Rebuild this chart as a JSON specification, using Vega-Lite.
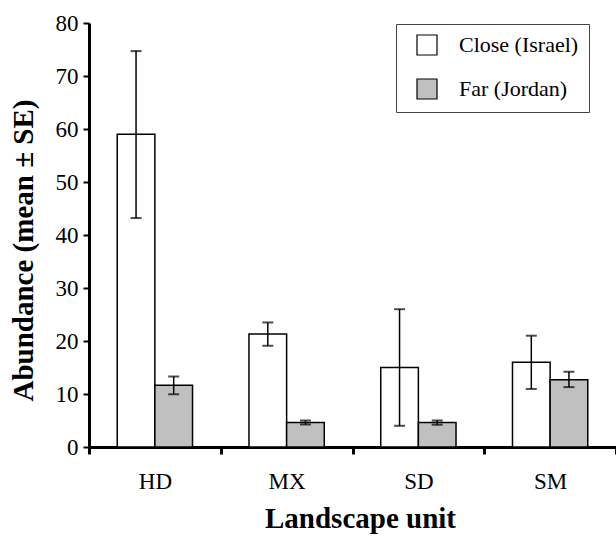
{
  "$schema": "https://vega.github.io/schema/vega-lite/v6.json",
  "width": 527,
  "height": 424,
  "autosize": {"type": "none"},
  "padding": {"left": 89, "top": 23, "right": 0, "bottom": 89},
  "background": "white",
  "config": {
    "font": "Liberation Serif",
    "axis": {"labelFont": "Liberation Serif", "titleFont": "Liberation Serif"},
    "legend": {"labelFont": "Liberation Serif"},
    "view": {"stroke": null}
  },
  "data": {
    "values": [
      {"unit": "HD", "site": "Close (Israel)", "mean": 59.0, "lo": 43.2, "hi": 74.7},
      {"unit": "HD", "site": "Far (Jordan)", "mean": 11.65, "lo": 9.95, "hi": 13.3},
      {"unit": "MX", "site": "Close (Israel)", "mean": 21.3, "lo": 19.1, "hi": 23.5},
      {"unit": "MX", "site": "Far (Jordan)", "mean": 4.6, "lo": 4.25, "hi": 5.0},
      {"unit": "SD", "site": "Close (Israel)", "mean": 15.0, "lo": 4.0, "hi": 26.0},
      {"unit": "SD", "site": "Far (Jordan)", "mean": 4.6, "lo": 4.2, "hi": 5.0},
      {"unit": "SM", "site": "Close (Israel)", "mean": 16.0, "lo": 10.95, "hi": 21.0},
      {"unit": "SM", "site": "Far (Jordan)", "mean": 12.7, "lo": 11.3, "hi": 14.2}
    ]
  },
  "encoding": {
    "x": {
      "field": "unit", "type": "nominal", "sort": ["HD", "MX", "SD", "SM"],
      "scale": {"paddingInner": 0, "paddingOuter": 0},
      "axis": {
        "domainWidth": 3, "domainColor": "black", "tickBand": "extent",
        "tickSize": 7, "tickWidth": 3, "tickColor": "black",
        "labelAngle": 0, "labelFontSize": 23, "labelPadding": 16, "labelColor": "black",
        "title": "Landscape unit", "titleFontSize": 29, "titleFontWeight": "bold",
        "titlePadding": 11, "titleColor": "black", "titleX": 271
      }
    },
    "xOffset": {
      "field": "site", "type": "nominal",
      "scale": {"paddingOuter": 0.75, "paddingInner": 0}
    }
  },
  "layer": [
    {
      "mark": {"type": "bar", "stroke": "black", "strokeWidth": 1.5},
      "encoding": {
        "y": {
          "field": "mean", "type": "quantitative",
          "scale": {"domain": [0, 80]},
          "title": "Abundance (mean ± SE)",
          "axis": {
            "values": [0, 10, 20, 30, 40, 50, 60, 70, 80],
            "domainWidth": 3, "domainColor": "black",
            "tickSize": 6, "tickWidth": 2, "tickColor": "black",
            "grid": false, "labelFontSize": 23, "labelPadding": 5, "labelColor": "black",
            "titleFontSize": 29, "titleFontWeight": "bold", "titlePadding": 17, "titleColor": "black",
            "titleY": 227
          }
        },
        "fill": {
          "field": "site", "type": "nominal",
          "scale": {"domain": ["Close (Israel)", "Far (Jordan)"], "range": ["white", "#c0c0c0"]},
          "legend": {
            "title": null, "orient": "none", "legendX": 307, "legendY": 1,
            "padding": 10, "strokeColor": "#444", "fillColor": "white",
            "symbolType": "square", "symbolSize": 400, "symbolStrokeColor": "black",
            "symbolStrokeWidth": 1.2, "symbolOffset": 10,
            "labelFont": "Liberation Serif",
            "labelFontSize": 22, "labelOffset": 21, "rowPadding": 18, "labelColor": "black"
          }
        }
      }
    },
    {
      "mark": {"type": "rule", "color": "black", "strokeWidth": 1.5},
      "encoding": {
        "y": {"field": "lo", "type": "quantitative", "title": "Abundance (mean ± SE)"},
        "y2": {"field": "hi"}
      }
    },
    {
      "mark": {"type": "tick", "color": "black", "size": 11, "thickness": 2},
      "encoding": {
        "y": {"field": "lo", "type": "quantitative", "title": "Abundance (mean ± SE)"}
      }
    },
    {
      "mark": {"type": "tick", "color": "black", "size": 11, "thickness": 2},
      "encoding": {
        "y": {"field": "hi", "type": "quantitative", "title": "Abundance (mean ± SE)"}
      }
    }
  ]
}
